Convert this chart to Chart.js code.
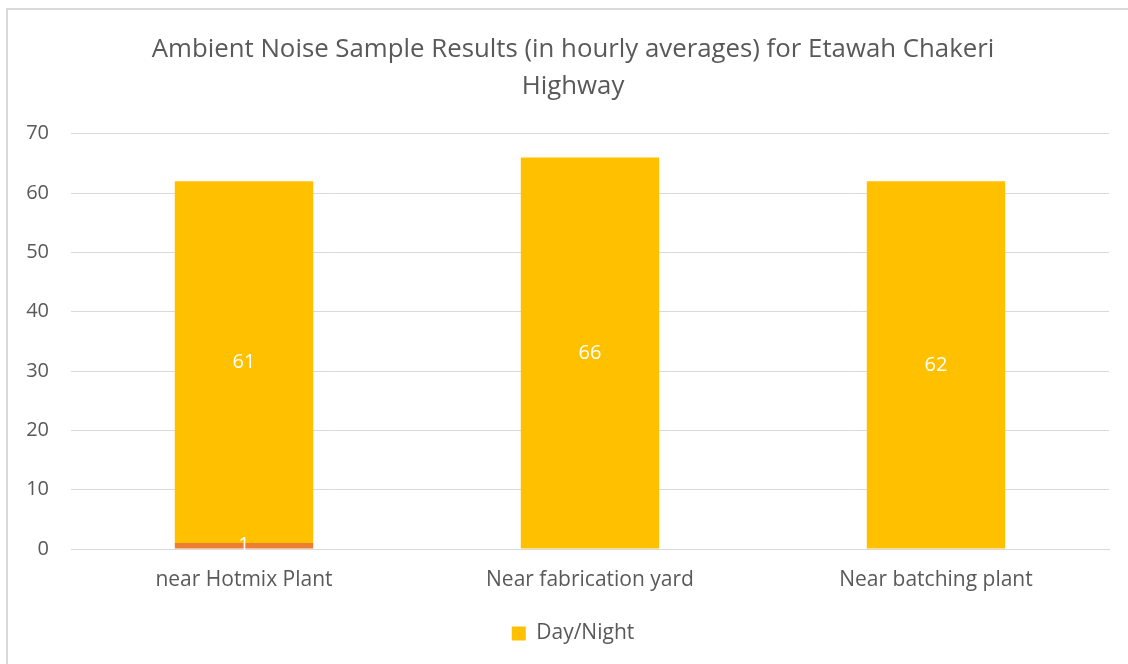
<!DOCTYPE html>
<html>
<head>
<meta charset="utf-8">
<script src="https://cdn.jsdelivr.net/npm/chart.js@4.4.1/dist/chart.umd.min.js"></script>
<style>
  html, body { margin: 0; padding: 0; background: #fff; overflow: hidden; }
  #frame { position: absolute; left: 6px; top: 8px; width: 1200px; height: 700px;
           border-left: 2px solid #d9d9d9; border-top: 2px solid #d9d9d9; }
  #wrap { position: absolute; left: 0; top: 0; width: 1128px; height: 664px; }
</style>
</head>
<body>
<div id="frame"></div>
<div id="wrap"><canvas id="chart" width="1128" height="664"></canvas></div>
<script>
// chart data
const categories = ['near Hotmix Plant', 'Near fabrication yard', 'Near batching plant'];
const lowerValues = [1, null, null];
const dayNight = [61, 66, 62];
const yTicks = [0, 10, 20, 30, 40, 50, 60, 70];

const textColor = '#595959';
const fontFamily = '"Open Sans", Lato, sans-serif';

// white value labels in the middle of each bar segment
const barLabels = {
  id: 'barLabels',
  afterDatasetsDraw(chart) {
    const ctx = chart.ctx;
    ctx.save();
    ctx.fillStyle = '#ffffff';
    ctx.font = '20px ' + fontFamily;
    ctx.textAlign = 'center';
    ctx.textBaseline = 'middle';
    chart.data.datasets.forEach((ds, i) => {
      chart.getDatasetMeta(i).data.forEach((bar, j) => {
        const v = ds.data[j];
        if (v === null || v === undefined) return;
        const mid = (bar.y + bar.base) / 2;
        ctx.fillText(String(v), bar.x, mid);
      });
    });
    ctx.restore();
  }
};

new Chart(document.getElementById('chart'), {
  type: 'bar',
  data: {
    labels: categories,
    datasets: [
      { label: '', data: lowerValues, backgroundColor: '#ED7D31',
        categoryPercentage: 1, barPercentage: 0.4 },
      { label: 'Day/Night', data: dayNight, backgroundColor: '#FFC000',
        categoryPercentage: 1, barPercentage: 0.4 }
    ]
  },
  options: {
    responsive: false,
    animation: false,
    layout: { padding: { left: 18, right: 0, top: 0, bottom: 10 } },
    plugins: {
      title: {
        display: true,
        text: ['Ambient Noise Sample Results (in hourly averages) for Etawah Chakeri', 'Highway'],
        color: textColor,
        font: { family: fontFamily, size: 25.8, weight: 'normal', lineHeight: 1.43 },
        padding: { top: 31, bottom: 29 }
      },
      legend: {
        position: 'bottom',
        labels: {
          color: textColor,
          font: { family: fontFamily, size: 21 },
          boxWidth: 14, boxHeight: 14, padding: 10,
          filter: item => item.text !== ''
        }
      },
      tooltip: { enabled: false }
    },
    scales: {
      x: {
        stacked: true,
        afterFit: scale => { scale.height = 64; },
        grid: { display: false },
        border: { color: '#d9d9d9', width: 1 },
        ticks: { color: textColor, font: { family: fontFamily, size: 21 }, padding: 10 }
      },
      y: {
        stacked: true,
        min: 0, max: 70,
        afterBuildTicks: scale => { scale.ticks = yTicks.map(v => ({ value: v })); },
        afterFit: scale => { scale.width = 53; },
        grid: { color: '#d9d9d9', drawTicks: false },
        border: { display: false },
        ticks: { color: textColor, font: { family: fontFamily, size: 20 }, padding: 22 }
      },
      // empty right gutter so the plot stops short of the edge
      gutter: {
        position: 'right',
        afterFit: scale => { scale.width = 19; },
        grid: { display: false },
        border: { display: false },
        ticks: { display: false }
      }
    }
  },
  plugins: [barLabels]
});
</script>
</body>
</html>
